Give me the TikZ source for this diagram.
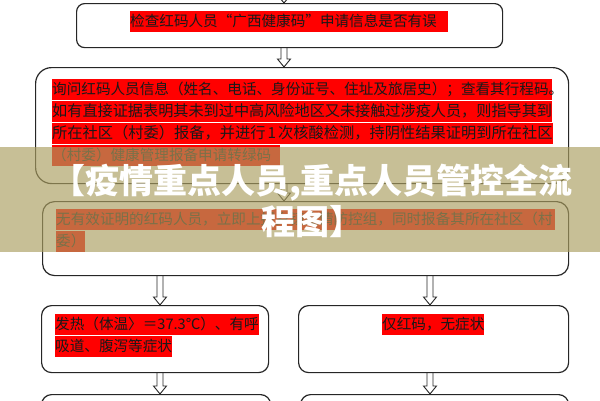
\documentclass[tikz,border=0pt]{standalone}
\usepackage{fontspec}
\newfontfamily\cjk{Noto Sans CJK SC}
\usetikzlibrary{calc}
\XeTeXlinebreaklocale "zh"
\XeTeXlinebreakskip=0pt plus 3pt minus 2pt
\definecolor{hlred}{RGB}{255,0,0}
\definecolor{khaki}{RGB}{171,159,97}

\begin{document}
\begin{tikzpicture}[x=1pt, y=-1pt,
  box/.style={draw=black!85, line width=1.2pt, inner sep=0pt, anchor=north west},
  hl/.style={fill=hlred, text=black!90, inner sep=0pt, text height=15.5pt,
    text depth=5pt, anchor=north west, font=\cjk\fontsize{14.6}{15}\selectfont},
  hollow/.style={draw=black!85, line width=0.9pt, line join=miter}]

  \newcommand\spread[2]{\makebox[#1][s]{#2}}
  \newcommand\hollowto[3]{%
    \draw[hollow] ($(#2 -| #1)+(-3,0)$) -- ($(#3 -| #1)+(-3,-8)$)
    -- ($(#3 -| #1)+(-6.5,-8)$) -- (#3 -| #1) -- ($(#3 -| #1)+(6.5,-8)$)
    -- ($(#3 -| #1)+(3,-8)$) -- ($(#2 -| #1)+(3,0)$);}

  \clip (0,0) rectangle (600,400);
  \fill[white] (0,0) rectangle (600,400);

  % boxes
  \node[box, rounded corners=8pt, minimum width=426pt, minimum height=44pt] (b1) at (76,3) {};
  \node[box, rounded corners=16pt, minimum width=533pt, minimum height=116pt] (b2) at (35,67) {};
  \node[box, rounded corners=12pt, minimum width=526pt, minimum height=74pt] (b3) at (42,201) {};
  \node[box, rounded corners=10pt, minimum width=227pt, minimum height=67pt] (b4) at (41,305) {};
  \node[box, rounded corners=10pt, minimum width=270pt, minimum height=67pt] (b5) at (298,305) {};
  \node[box, rounded corners=10pt, minimum width=229pt, minimum height=60pt] (b6) at (41,394) {};
  \node[box, rounded corners=10pt, minimum width=268pt, minimum height=60pt] (b7) at (300,394) {};

  % arrows
  \coordinate (xa) at (284,0);
  \coordinate (xl) at (160,0);
  \coordinate (xr) at (430,0);
  \coordinate (in) at (284,-30);
  \hollowto{xa}{in}{b1.north}
  \hollowto{xa}{b1.south}{b2.north}
  \hollowto{xa}{b2.south}{b3.north}
  \hollowto{xl}{b3.south}{b4.north}
  \hollowto{xr}{b3.south}{b5.north}
  \hollowto{xl}{b4.south}{b6.north}
  \hollowto{xr}{b5.south}{b7.north}

  % texts
  \node[hl] (t1) at (130,11) {\spread{318pt}{检查红码人员“广西健康码”申请信息是否有误}};

  \node[hl] (t21) at (52,79) {\spread{500pt}{询问红码人员信息（姓名、电话、身份证号、住址及旅居史）；查看其行程码。}};
  \node[hl, font=\cjk\fontsize{15.15}{15}\selectfont] (t22) at (52,101) {如有直接证据表明其未到过中高风险地区又未接触过涉疫人员，则指导其到};
  \node[hl, font=\cjk\fontsize{15.25}{15}\selectfont] (t23) at (52,123) {所在社区（村委）报备，并进行\kern2pt 1\kern2pt 次核酸检测，持阴性结果证明到所在社区};
  \node[hl] (t24) at (52,145) {\spread{228pt}{（村委）健康管理报备申请转绿码}};

  \node[hl] (t31) at (56,209) {\spread{499pt}{无有效证明的红码人员，立即上报乡镇疫情防控组，同时报备其所在社区（村}};
  \node[hl] (t32) at (56,231) {委）};

  \node[hl] (t41) at (55,314) {发热（体温〉＝37.3℃）、有呼};
  \node[hl] (t42) at (55,336) {吸道、腹泻等症状};

  \node[hl] (t5) at (382,314) {仅红码，无症状};

  % banner
  \fill[khaki, fill opacity=0.66] (0,147) rectangle (600,252);
  \node[text=white, align=center, inner sep=0pt, font=\cjk\bfseries\fontsize{34}{41}\selectfont]
    (title) at (312,201) {【疫情重点人员,重点人员管控全流\\程图】};

\end{tikzpicture}
\end{document}
